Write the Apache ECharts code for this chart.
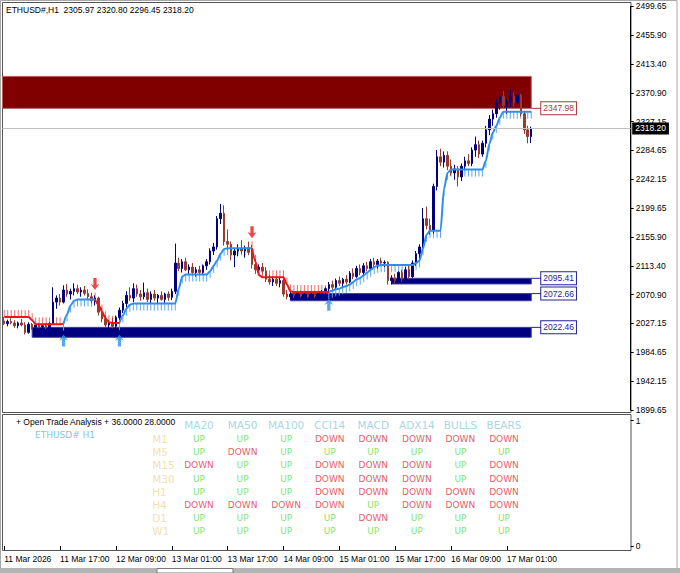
<!DOCTYPE html>
<html>
<head>
<meta charset="utf-8">
<title>ETHUSD# H1</title>
<script src="https://cdn.jsdelivr.net/npm/echarts@6/dist/echarts.min.js"></script>
<style>
html,body{margin:0;padding:0;background:#ffffff;overflow:hidden}
#chart{width:680px;height:573px}
</style>
</head>
<body>
<div id="chart"></div>
<script>
// ---------------- data ----------------
const symbolName = 'ETHUSD#';
const timeframe = 'H1';
const firstBarTime = Date.UTC(2026, 2, 11, 1, 0);   // first visible hourly bar
const slotCount = 180;                              // hourly slots on the time axis (bars + right shift)
const xTickStep = 16;
const xTickLabels = ['11 Mar 2026', '11 Mar 17:00', '12 Mar 09:00', '13 Mar 01:00', '13 Mar 17:00',
                     '14 Mar 09:00', '15 Mar 01:00', '15 Mar 17:00', '16 Mar 09:00', '17 Mar 01:00'];
const yTickLabels = ['1899.65', '1942.15', '1984.65', '2027.15', '2070.90', '2113.40', '2155.90', '2199.65',
                     '2242.15', '2284.65', '2327.15', '2370.90', '2413.40', '2455.90', '2499.65'];

const opens = [
  2032,2028,2031,2029,2025,2029,2026,2015,2027,2023,
  2026,2023,2025,2022,2028,2060,2066,2060,2078,2072,
  2076,2080,2075,2078,2073,2068,2062,2066,2045,2035,
  2026,2030,2024,2037,2048,2058,2070,2066,2080,2072,
  2068,2074,2064,2072,2066,2070,2064,2072,2067,2076,
  2118,2110,2120,2108,2112,2104,2108,2104,2114,2120,
  2136,2142,2184,2192,2150,2146,2130,2136,2140,2136,
  2141,2134,2116,2108,2112,2106,2094,2090,2094,2088,
  2092,2072,2068,2072,2070,2073,2069,2072,2068,2071,
  2069,2073,2075,2080,2086,2082,2092,2088,2094,2090,
  2103,2098,2110,2104,2114,2110,2120,2116,2121,2118,
  2119,2092,2096,2092,2104,2094,2108,2098,2118,2132,
  2142,2184,2174,2166,2232,2276,2268,2278,2262,2252,
  2258,2246,2262,2270,2266,2286,2294,2280,2296,2316,
  2332,2340,2356,2366,2352,2358,2366,2356,2368,2340,
  2316,2305.97
];
const highs = [
  2038,2034,2036,2033,2031,2035,2030,2030,2029,2028,
  2029,2027,2028,2030,2082,2070,2072,2085,2087,2080,
  2088,2086,2082,2084,2079,2074,2070,2068,2052,2040,
  2033,2036,2040,2052,2062,2076,2082,2088,2086,2078,
  2089,2080,2076,2078,2072,2076,2074,2076,2080,2147,
  2126,2124,2126,2116,2118,2112,2114,2116,2124,2140,
  2148,2188,2206,2204,2168,2150,2140,2146,2152,2144,
  2150,2145,2124,2116,2118,2112,2100,2098,2098,2096,
  2095,2078,2076,2076,2075,2077,2075,2076,2074,2076,
  2075,2078,2082,2090,2092,2095,2098,2096,2100,2106,
  2110,2114,2116,2118,2120,2124,2126,2124,2126,2122,
  2121,2100,2102,2106,2108,2112,2114,2122,2136,2146,
  2200,2202,2184,2236,2286,2288,2284,2284,2272,2264,
  2262,2266,2276,2280,2290,2306,2300,2300,2322,2338,
  2346,2362,2376,2374,2362,2376,2372,2374,2370,2344,
  2322,2320.80
];
const lows = [
  2026,2024,2027,2022,2021,2024,2012,2013,2019,2020,
  2021,2019,2020,2020,2026,2050,2055,2058,2068,2064,
  2070,2072,2068,2070,2064,2058,2055,2040,2030,2022,
  2019,2021,2022,2033,2044,2052,2062,2060,2068,2062,
  2064,2060,2058,2062,2058,2062,2058,2062,2063,2072,
  2106,2104,2106,2100,2100,2098,2100,2100,2108,2116,
  2130,2138,2176,2144,2138,2122,2112,2128,2132,2126,
  2130,2110,2102,2100,2102,2090,2086,2084,2084,2082,
  2068,2064,2064,2066,2065,2067,2064,2066,2063,2066,
  2064,2068,2070,2074,2078,2078,2084,2082,2086,2088,
  2094,2096,2100,2100,2106,2108,2112,2110,2114,2112,
  2086,2086,2088,2090,2090,2092,2094,2096,2114,2124,
  2138,2168,2160,2162,2226,2262,2260,2256,2248,2242,
  2232,2240,2256,2262,2262,2276,2274,2276,2290,2308,
  2322,2334,2346,2348,2340,2350,2350,2352,2336,2310,
  2296,2296.45
];
const closes = [
  2028,2031,2029,2025,2029,2026,2015,2027,2023,2026,
  2023,2025,2022,2028,2060,2066,2060,2078,2072,2076,
  2080,2075,2078,2073,2068,2062,2066,2045,2035,2026,
  2030,2024,2037,2048,2058,2070,2066,2080,2072,2068,
  2074,2064,2072,2066,2070,2064,2072,2067,2076,2118,
  2110,2120,2108,2112,2104,2108,2104,2114,2120,2136,
  2142,2184,2192,2150,2146,2130,2136,2140,2136,2141,
  2134,2116,2108,2112,2106,2094,2090,2094,2088,2092,
  2072,2068,2072,2070,2073,2069,2072,2068,2071,2069,
  2073,2075,2080,2086,2082,2092,2088,2094,2090,2103,
  2098,2110,2104,2114,2110,2120,2116,2121,2118,2119,
  2092,2096,2092,2104,2094,2108,2098,2118,2132,2142,
  2184,2174,2166,2232,2276,2268,2278,2262,2252,2258,
  2246,2262,2270,2266,2286,2294,2280,2296,2316,2332,
  2340,2356,2366,2352,2358,2366,2356,2368,2340,2316,
  2306,2318.20
];

// trailing trend-stop level per bar
const trendLevel = [
  2038,2038,2038,2038,2038,2038,2038,2038,2033,2027,
  2027,2027,2027,2027,2027,2027,2027,2028,2042,2055,
  2062,2064,2064,2064,2064,2064,2064,2056,2046,2036,
  2030,2029,2029,2029,2040,2050,2056,2058,2058,2058,
  2058,2058,2058,2058,2058,2058,2058,2058,2058,2058,
  2080,2098,2101,2101,2101,2101,2101,2101,2101,2106,
  2114,2122,2132,2139,2140,2140,2140,2140,2140,2140,
  2140,2140,2120,2100,2097,2097,2097,2097,2097,2097,
  2097,2086,2076,2075,2075,2075,2075,2075,2075,2075,
  2075,2075,2075,2075,2077,2079,2080,2082,2084,2086,
  2090,2094,2096,2100,2104,2108,2112,2114,2115,2115,
  2115,2115,2115,2115,2115,2115,2115,2115,2118,2122,
  2140,2160,2166,2166,2166,2166,2228,2252,2257,2257,
  2257,2257,2257,2257,2257,2257,2257,2257,2270,2295,
  2312,2322,2334,2343,2343,2343,2343,2343,2343,2343,
  2343,2343
];
const initialTrend = -1;
// signal arrows: [bar index, price]
const upSignals = [[17, 2003], [33, 2003], [93, 2056]];
const downSignals = [[26, 2087], [71, 2164]];

// supply / demand zones
const zoneStart  = [0, 111, 82, 8];
const zoneEnd    = [151, 151, 151, 151];
const zoneTop    = [2395.5, 2095.41, 2072.66, 2022.46];
const zoneBottom = [2347.98, 2087.0, 2062.0, 2007.7];
const zoneLabel  = [2347.98, 2095.41, 2072.66, 2022.46];
const zoneKind   = ['resistance', 'support', 'support', 'support'];

const currentPrice = 2318.20;

// indicator panel
const panelTitle = '+ Open Trade Analysis + 36.0000 28.0000';
const tableColumns = ['MA20', 'MA50', 'MA100', 'CCI14', 'MACD', 'ADX14', 'BULLS', 'BEARS'];
const tableRows = ['M1', 'M5', 'M15', 'M30', 'H1', 'H4', 'D1', 'W1'];
const tableSignals = [
  ['UP', 'UP', 'UP', 'DOWN', 'DOWN', 'DOWN', 'DOWN', 'DOWN'],
  ['UP', 'DOWN', 'UP', 'UP', 'UP', 'UP', 'UP', 'UP'],
  ['DOWN', 'UP', 'UP', 'DOWN', 'DOWN', 'DOWN', 'UP', 'DOWN'],
  ['UP', 'UP', 'UP', 'DOWN', 'DOWN', 'DOWN', 'UP', 'DOWN'],
  ['UP', 'UP', 'UP', 'DOWN', 'DOWN', 'DOWN', 'DOWN', 'DOWN'],
  ['DOWN', 'DOWN', 'DOWN', 'DOWN', 'UP', 'DOWN', 'DOWN', 'DOWN'],
  ['UP', 'UP', 'UP', 'UP', 'DOWN', 'UP', 'UP', 'UP'],
  ['UP', 'UP', 'UP', 'UP', 'UP', 'UP', 'UP', 'UP']
];

// ---------------- styles ----------------
const axisFont = "'Liberation Sans', Arial, sans-serif";
const tableFont = "'DejaVu Sans', Verdana, sans-serif";
const bullColor = '#000080';
const bearColor = '#983a2c';
const trendUpColor = '#2e8ef0';
const trendDnColor = '#ee1515';
const hatchUpColor = '#5aa8f0';
const hatchDnColor = '#f06a6a';
const headerColor = '#a9d6e6';
const rowColor = '#f0e2ae';
const upTextColor = '#5ede3a';
const downTextColor = '#e0303c';

// ---------------- derived ----------------
const months = ['Jan','Feb','Mar','Apr','May','Jun','Jul','Aug','Sep','Oct','Nov','Dec'];
const pad2 = n => (n < 10 ? '0' : '') + n;
const categories = [];
for (let k = 0; k < slotCount; k++) {
  const d = new Date(firstBarTime + k * 3600000);
  categories.push(d.getUTCDate() + ' ' + months[d.getUTCMonth()] + ' ' + d.getUTCFullYear() + ' ' + pad2(d.getUTCHours()) + ':00');
}
const yMin = parseFloat(yTickLabels[0]);
const yMax = parseFloat(yTickLabels[yTickLabels.length - 1]);
const yInterval = (yMax - yMin) / (yTickLabels.length - 1);

const candleData = opens.map((o, i) => [o, closes[i], lows[i], highs[i]]);
const signalDir = {};
upSignals.forEach(s => { signalDir[s[0]] = 1; });
downSignals.forEach(s => { signalDir[s[0]] = -1; });
const trendDir = [];
let curDir = initialTrend;
trendLevel.forEach((v, i) => { if (signalDir[i]) curDir = signalDir[i]; trendDir.push(curDir); });
const upLine = trendLevel.map((v, i) => (trendDir[i] === 1 || (i > 0 && trendDir[i - 1] === 1)) ? v : null);
const dnLine = trendLevel.map((v, i) => (trendDir[i] === -1 || (i > 0 && trendDir[i - 1] === -1)) ? v : null);
const hatchData = trendLevel.map((v, i) => [i, v, trendDir[i]]);
const zoneData = zoneStart.map((s, i) => [s, zoneEnd[i], zoneTop[i], zoneBottom[i], zoneLabel[i], zoneKind[i] === 'resistance' ? 1 : 0]);
const last = opens.length - 1;
const headerText = symbolName + ',' + timeframe + '  ' + opens[last].toFixed(2) + ' ' + highs[last].toFixed(2) + ' ' +
                   lows[last].toFixed(2) + ' ' + closes[last].toFixed(2);
const tableData = [];
tableRows.forEach((r, ri) => tableColumns.forEach((c, ci) => {
  const s = tableSignals[ri][ci];
  tableData.push({ value: [ci, ri, s], label: { color: s === 'UP' ? upTextColor : downTextColor } });
}));
const tickSel = idx => idx % xTickStep === 0 && idx / xTickStep < xTickLabels.length;
const arrowPath = 'path://M5,0 L10,6.2 L6.8,4.8 L6.8,12 L3.2,12 L3.2,4.8 L0,6.2 Z';

// ---------------- chart ----------------
const chart = echarts.init(document.getElementById('chart'), null, { renderer: 'svg', width: 680, height: 573 });
chart.setOption({
  animation: false,
  backgroundColor: '#ffffff',
  title: [
    { text: headerText, left: 6, top: 5.5, padding: 0,
      textStyle: { fontSize: 8.5, fontWeight: 'normal', color: '#000', fontFamily: axisFont } },
    { text: panelTitle, left: 16, top: 417.5, padding: 0,
      textStyle: { fontSize: 8.5, fontWeight: 'normal', color: '#000', fontFamily: axisFont } },
    { text: symbolName + ' ' + timeframe, left: 35, top: 430, padding: 0,
      textStyle: { fontSize: 9, fontWeight: 'normal', color: '#82c4e8', fontFamily: tableFont } }
  ],
  grid: [
    { left: 2.5, top: 6.3, width: 628.2, height: 403.7, containLabel: false, outerBoundsMode: 'none', show: false },
    { left: 2.5, top: 420.7, width: 628.2, height: 125.3, containLabel: false, outerBoundsMode: 'none', show: false },
    { left: 177.2, top: 432.8, width: 348.6, height: 104.5, containLabel: false, outerBoundsMode: 'none', show: false }
  ],
  xAxis: [
    { type: 'category', gridIndex: 0, data: categories, boundaryGap: true, show: false },
    { type: 'category', gridIndex: 1, data: categories, boundaryGap: true, offset: 4.7,
      axisLine: { show: false },
      axisTick: { show: true, alignWithLabel: true, interval: tickSel, length: 4, lineStyle: { color: '#000', width: 1 } },
      axisLabel: { show: true, interval: tickSel, align: 'left', margin: 4, color: '#000', fontSize: 8.5, fontFamily: axisFont,
        formatter: (v, idx) => xTickLabels[Math.round(idx / xTickStep)] },
      splitLine: { show: false } },
    { type: 'category', gridIndex: 2, data: tableColumns, position: 'top',
      axisLine: { show: false }, axisTick: { show: false }, splitLine: { show: false },
      axisLabel: { interval: 0, color: headerColor, fontSize: 10.5, fontFamily: tableFont, margin: 8, verticalAlign: 'middle' } }
  ],
  yAxis: [
    { type: 'value', gridIndex: 0, position: 'right', min: yMin, max: yMax, interval: yInterval,
      splitLine: { show: false },
      axisLine: { show: true, lineStyle: { color: '#000', width: 1 } },
      axisTick: { show: true, length: 3, lineStyle: { color: '#000' } },
      axisLabel: { margin: 5, color: '#000', fontSize: 8.5, fontFamily: axisFont,
        formatter: v => { const k = Math.round((v - yMin) / yInterval); return yTickLabels[k] || ''; } } },
    { type: 'value', gridIndex: 1, position: 'right', min: 0, max: 1, interval: 1,
      splitLine: { show: false }, axisLine: { show: false },
      axisTick: { show: true, length: 3, lineStyle: { color: '#000' } },
      axisLabel: { margin: 5, color: '#000', fontSize: 8.5, fontFamily: axisFont } },
    { type: 'category', gridIndex: 2, data: tableRows, inverse: true,
      axisLine: { show: false }, axisTick: { show: false }, splitLine: { show: false },
      axisLabel: { interval: 0, align: 'left', margin: 25, color: rowColor, fontSize: 10.5, fontFamily: tableFont } }
  ],
  graphic: [
    { type: 'rect', silent: true, z: -10, shape: { x: 0.5, y: 0.5, width: 676.5, height: 572 }, style: { fill: 'none', stroke: '#a8a8a8', lineWidth: 1 } },
    { type: 'rect', silent: true, shape: { x: 2.5, y: 2.5, width: 628.5, height: 410 }, style: { fill: 'none', stroke: '#555555', lineWidth: 1 } },
    { type: 'rect', silent: true, shape: { x: 2.5, y: 414.5, width: 628.5, height: 136 }, style: { fill: 'none', stroke: '#555555', lineWidth: 1 } },
    { type: 'rect', silent: true, shape: { x: 0, y: 568, width: 680, height: 5 }, style: { fill: '#b4b4b4' } },
    { type: 'rect', silent: true, shape: { x: 157, y: 568.5, width: 76, height: 4.5 }, style: { fill: '#ffffff', stroke: '#7a7a7a', lineWidth: 1 } }
  ],
  series: [
    { // zones with their price labels
      type: 'custom', name: 'zones', xAxisIndex: 0, yAxisIndex: 0, z: 1, silent: true,
      data: zoneData, encode: { x: [0, 1], y: [2, 3] },
      renderItem: (params, api) => {
        const isRes = api.value(5) === 1;
        const a = api.coord([api.value(0), api.value(2)]);
        const b = api.coord([api.value(1), api.value(3)]);
        const lp = api.coord([api.value(1), api.value(4)]);
        const x0 = api.value(0) === 0 ? params.coordSys.x : a[0];
        const fill = isRes ? '#800000' : '#000080';
        const edge = isRes ? '#b85a5a' : '#3c3ca8';
        const txt = isRes ? '#a83838' : '#22229a';
        return { type: 'group', children: [
          { type: 'rect', shape: { x: x0, y: a[1], width: b[0] - x0, height: b[1] - a[1] },
            style: { fill: fill, stroke: edge, lineWidth: 1 } },
          { type: 'line', shape: { x1: b[0], y1: lp[1], x2: b[0] + 10, y2: lp[1] },
            style: { stroke: txt, lineWidth: 1 } },
          { type: 'text', x: b[0] + 10, y: lp[1],
            style: { text: api.value(4).toFixed(2), fill: txt, fontSize: 8.5, fontFamily: axisFont,
              align: 'left', verticalAlign: 'middle', backgroundColor: '#ffffff',
              borderColor: txt, borderWidth: 1, padding: [2, 2, 1, 2] } }
        ] };
      }
    },
    { // hatches of the trailing stop
      type: 'custom', name: 'hatch', xAxisIndex: 0, yAxisIndex: 0, z: 2, silent: true,
      data: hatchData, encode: { x: 0, y: 1 },
      renderItem: (params, api) => {
        const p = api.coord([api.value(0), api.value(1)]);
        const d = api.value(2);
        return { type: 'line', shape: { x1: p[0], y1: p[1], x2: p[0], y2: p[1] + 7 * d },
          style: { stroke: d > 0 ? hatchUpColor : hatchDnColor, lineWidth: 1 } };
      }
    },
    {
      type: 'candlestick', name: symbolName, xAxisIndex: 0, yAxisIndex: 0, z: 3, silent: true,
      data: candleData, barWidth: 2,
      itemStyle: { color: bullColor, color0: bearColor, borderColor: bullColor, borderColor0: bearColor, borderWidth: 1 },
      markLine: {
        silent: true, symbol: ['none', 'none'], animation: false,
        data: [{ yAxis: currentPrice }],
        lineStyle: { color: '#c0c0c0', width: 1, type: 'solid' },
        label: { show: true, position: 'end', distance: 1.5, formatter: currentPrice.toFixed(2),
          backgroundColor: '#000000', color: '#ffffff', fontSize: 8.5, fontFamily: axisFont, padding: [2, 3, 1, 3] }
      }
    },
    { type: 'line', name: 'trend up', xAxisIndex: 0, yAxisIndex: 0, z: 4, silent: true, data: upLine,
      showSymbol: false, symbol: 'none', connectNulls: false, smooth: 0.25, smoothMonotone: 'x',
      lineStyle: { color: trendUpColor, width: 2 } },
    { type: 'line', name: 'trend down', xAxisIndex: 0, yAxisIndex: 0, z: 4, silent: true, data: dnLine,
      showSymbol: false, symbol: 'none', connectNulls: false, smooth: 0.25, smoothMonotone: 'x',
      lineStyle: { color: trendDnColor, width: 2 } },
    { type: 'scatter', name: 'buy', xAxisIndex: 0, yAxisIndex: 0, z: 5, silent: true, data: upSignals,
      symbol: arrowPath, symbolSize: [9, 12], itemStyle: { color: trendUpColor } },
    { type: 'scatter', name: 'sell', xAxisIndex: 0, yAxisIndex: 0, z: 5, silent: true, data: downSignals,
      symbol: arrowPath, symbolSize: [9, 12], symbolRotate: 180, itemStyle: { color: trendDnColor } },
    { type: 'scatter', name: 'table', xAxisIndex: 2, yAxisIndex: 2, z: 5, silent: true, data: tableData,
      symbol: 'rect', symbolSize: 1, itemStyle: { color: 'rgba(0,0,0,0)' },
      label: { show: true, position: 'inside', formatter: p => p.value[2], fontSize: 9, fontFamily: tableFont } }
  ]
});
</script>
</body>
</html>
